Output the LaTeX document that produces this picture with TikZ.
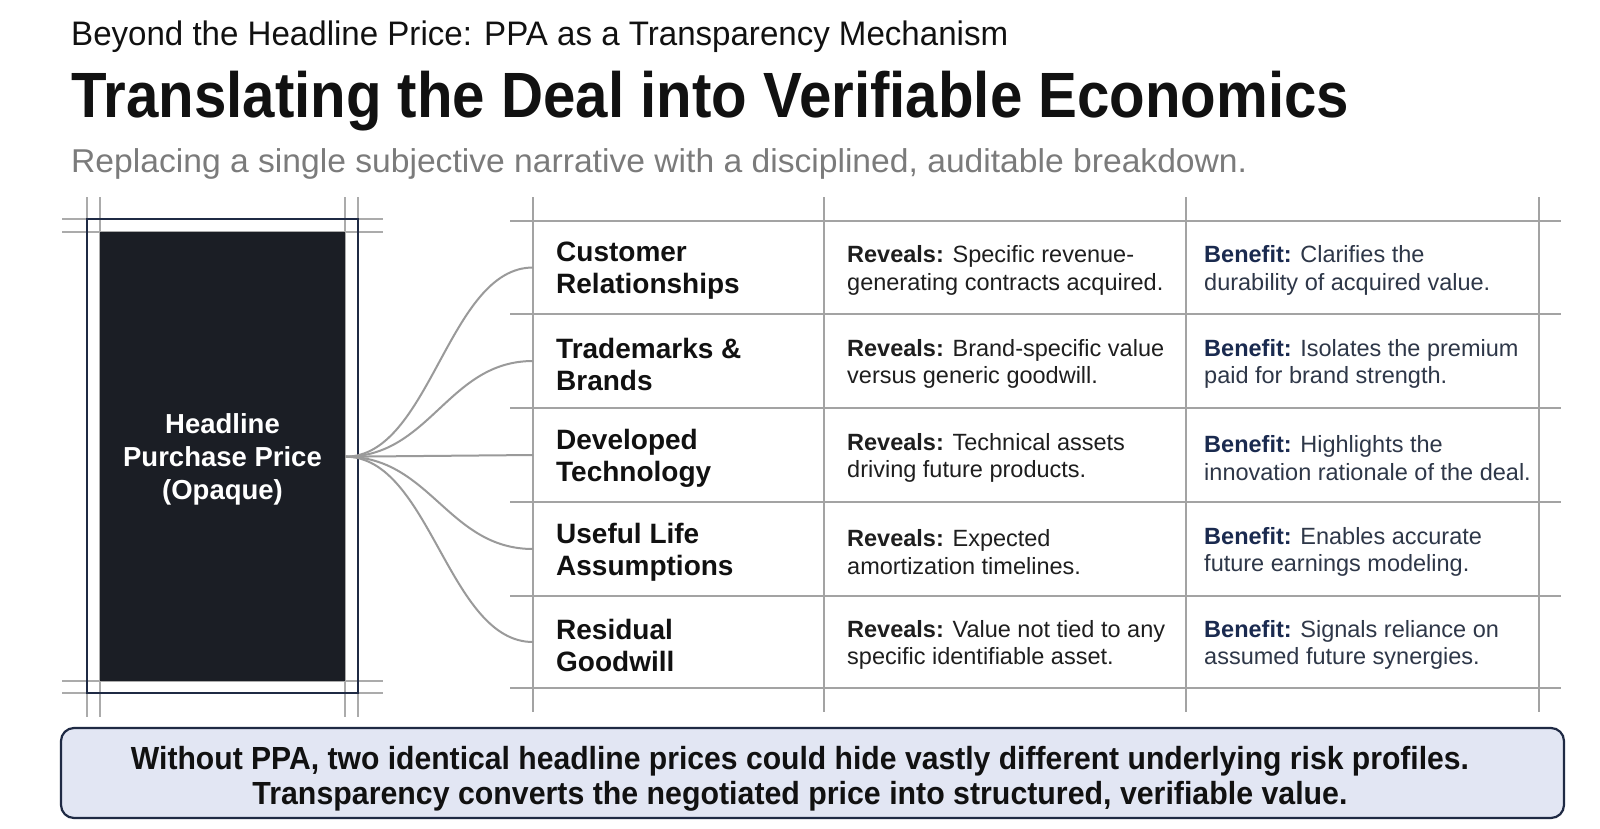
\documentclass[tikz,border=0pt]{standalone}
\usepackage{fontspec}
\setmainfont{Liberation Sans}
\usepackage{graphicx}
\definecolor{titleblack}{HTML}{111111}
\definecolor{subgray}{HTML}{7B7B7B}
\definecolor{gridgray}{HTML}{A3A3A3}
\definecolor{guidegray}{HTML}{ABABAB}
\definecolor{fangray}{HTML}{9A9A9A}
\definecolor{darkbox}{HTML}{1B1E25}
\definecolor{framenavy}{HTML}{1F2A44}
\definecolor{navy}{HTML}{1A2A4F}
\definecolor{slate}{HTML}{2E3748}
\definecolor{revtext}{HTML}{1E1E1E}
\definecolor{notefill}{HTML}{E2E6F3}
\newcommand{\rv}{\textbf{Reveals:}}
\newcommand{\bn}{\textbf{\color{navy}Benefit:}}
\begin{document}
\begin{tikzpicture}[x=1pt,y=-1pt,
  guide/.style={draw=guidegray,line width=1.2pt},
  gridline/.style={draw=gridgray,line width=1.8pt},
  fanline/.style={draw=fangray,line width=2pt},
  asset/.style={anchor=west,align=left,inner sep=0pt,font=\fontsize{28}{32}\selectfont\bfseries,text=titleblack},
  reveal/.style={anchor=west,align=left,inner sep=0pt,font=\fontsize{23.5}{27.5}\selectfont,text=revtext},
  benefit/.style={reveal,text=slate},
  titletext/.style={anchor=base west,inner sep=0pt},
  notetext/.style={anchor=base,inner sep=0pt,font=\fontsize{32}{38}\selectfont\bfseries,text=titleblack}
]
\useasboundingbox (0,0) rectangle (1600,828);
\fill[white] (0,0) rectangle (1600,828);

% titles
\node[titletext,font=\fontsize{34}{40}\selectfont,text=titleblack] (t1) at (71,45)
  {\resizebox{937pt}{\height}{Beyond the Headline Price: PPA as a Transparency Mechanism}};
\node[titletext,font=\fontsize{64}{70}\selectfont\bfseries,text=titleblack] (t2) at (71,117)
  {\resizebox{1278pt}{\height}{Translating the Deal into Verifiable Economics}};
\node[titletext,font=\fontsize{33}{40}\selectfont,text=subgray] (t3) at (71,172)
  {\resizebox{1176pt}{\height}{Replacing a single subjective narrative with a disciplined, auditable breakdown.}};

% left box guides
\foreach \y in {219,232,681,693} \draw[guide] (62,\y) -- (383,\y);
\foreach \x in {87,100,345,358} \draw[guide] (\x,197) -- (\x,717);
\draw[draw=framenavy,line width=1.8pt] (87,219) rectangle (358,693);
\node[fill=darkbox,minimum width=245pt,minimum height=449pt,inner sep=0pt,anchor=north west] (price) at (100,232) {};
\node[text=white,align=center,inner sep=0pt,font=\fontsize{27.5}{33}\selectfont\bfseries] (pricelabel) at (222.5,459)
  {Headline\\Purchase Price\\(Opaque)};

% table grid
\foreach \y in {221,314,408,502,596,688} \draw[gridline] (510,\y) -- (1561,\y);
\foreach \x in {533,824,1186,1539} \draw[gridline] (\x,197) -- (\x,712);

% row anchors
\coordinate (r1) at (533,267.5);
\coordinate (r2) at (533,361);
\coordinate (r3) at (533,455);
\coordinate (r4) at (533,549);
\coordinate (r5) at (533,642);

% fan
\foreach \r in {r1,r2,r4,r5}
  \draw[fanline] (price.east) .. controls +(85,0) and +(-85,0) .. (\r);
\draw[fanline] (price.east) -- (r3);

% rows
\node[asset] (a1) at (556,270.5) {Customer\\Relationships};
\node[reveal] (v1) at (847,270.5) {\rv{} Specific revenue-\\generating contracts acquired.};
\node[benefit] (b1) at (1204,270.5) {\bn{} Clarifies the\\durability of acquired value.};

\node[asset] (a2) at (556,364) {Trademarks \&\\Brands};
\node[reveal] (v2) at (847,364) {\rv{} Brand-specific value\\versus generic goodwill.};
\node[benefit] (b2) at (1204,364) {\bn{} Isolates the premium\\paid for brand strength.};

\node[asset] (a3) at (556,458) {Developed\\Technology};
\node[reveal] (v3) at (847,458) {\rv{} Technical assets\\driving future products.};
\node[benefit] (b3) at (1204,458) {\bn{} Highlights the\\innovation rationale of the deal.};

\node[asset] (a4) at (556,552) {Useful Life\\Assumptions};
\node[reveal] (v4) at (847,552) {\rv{} Expected\\amortization timelines.};
\node[benefit] (b4) at (1204,552) {\bn{} Enables accurate\\future earnings modeling.};

\node[asset] (a5) at (556,645) {Residual\\Goodwill};
\node[reveal] (v5) at (847,645) {\rv{} Value not tied to any\\specific identifiable asset.};
\node[benefit] (b5) at (1204,645) {\bn{} Signals reliance on\\assumed future synergies.};

% bottom note
\node[draw=framenavy,fill=notefill,line width=2.2pt,rounded corners=13pt,minimum width=1503pt,
      minimum height=90pt,inner sep=0pt] (note) at (812.5,773) {};
\node[notetext] (n1) at (800,769)
  {\resizebox{1338pt}{\height}{Without PPA, two identical headline prices could hide vastly different underlying risk profiles.}};
\node[notetext] (n2) at (800,804)
  {\resizebox{1095pt}{\height}{Transparency converts the negotiated price into structured, verifiable value.}};
\end{tikzpicture}
\end{document}
